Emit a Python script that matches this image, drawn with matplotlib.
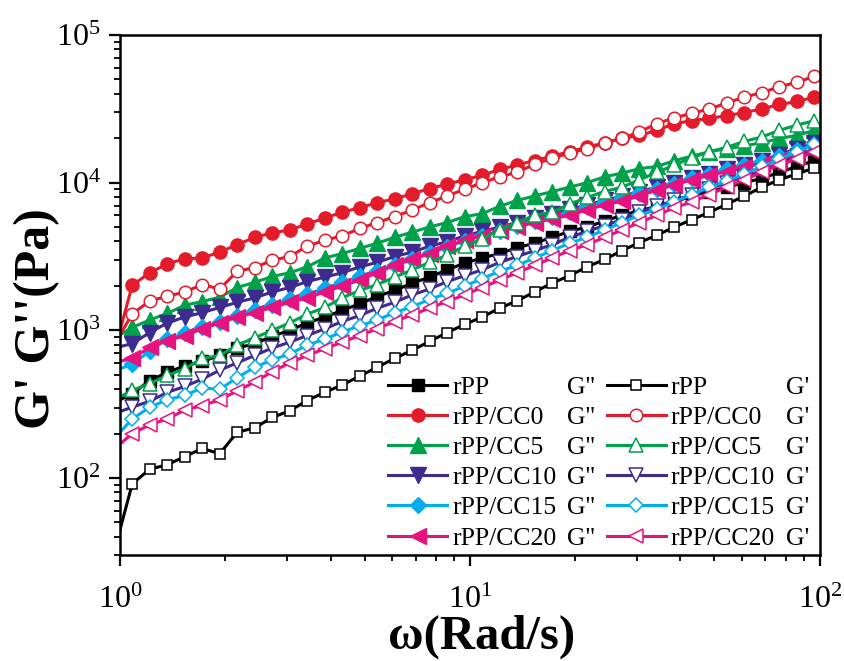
import numpy as np
import matplotlib
matplotlib.use("Agg")
import matplotlib.pyplot as plt

plt.rcParams['font.family'] = ['Liberation Serif', 'DejaVu Serif']
plt.rcParams['mathtext.fontset'] = 'custom'
plt.rcParams['mathtext.rm'] = 'Liberation Serif'
plt.rcParams['mathtext.it'] = 'Liberation Serif:italic'
plt.rcParams['mathtext.bf'] = 'Liberation Serif:bold'

# angular frequency (rad/s); first point carries no marker in the original
omega = [1.0, 1.084, 1.216, 1.365, 1.531, 1.718, 1.928, 2.163, 2.427, 2.723, 3.055,
         3.428, 3.846, 4.315, 4.842, 5.433, 6.095, 6.839, 7.674, 8.610, 9.661,
         10.84, 12.16, 13.65, 15.31, 17.18, 19.28, 21.63, 24.27, 27.23, 30.55,
         34.28, 38.46, 43.15, 48.42, 54.33, 60.95, 68.39, 76.74, 86.10, 96.61]

# log10 of modulus in Pa
rpp_gpp = [2.53, 2.57, 2.66, 2.715, 2.76, 2.79, 2.83, 2.88, 2.91, 2.96, 3.00,
           3.05, 3.09, 3.135, 3.18, 3.23, 3.27, 3.32, 3.36, 3.41, 3.455,
           3.49, 3.52, 3.56, 3.59, 3.63, 3.67, 3.70, 3.74, 3.78, 3.81,
           3.84, 3.87, 3.91, 3.94, 3.97, 4.00, 4.03, 4.07, 4.11, 4.15]
cc0_gpp = [3.00, 3.305, 3.39, 3.45, 3.485, 3.49, 3.53, 3.58, 3.63, 3.66, 3.68,
           3.72, 3.76, 3.80, 3.83, 3.865, 3.89, 3.925, 3.96, 3.99, 4.02,
           4.05, 4.09, 4.12, 4.15, 4.18, 4.21, 4.24, 4.27, 4.30, 4.32,
           4.355, 4.40, 4.42, 4.435, 4.455, 4.475, 4.50, 4.53, 4.55, 4.58]
cc5_gpp = [2.97, 3.02, 3.07, 3.115, 3.17, 3.195, 3.225, 3.29, 3.325, 3.365, 3.39,
           3.43, 3.49, 3.52, 3.555, 3.59, 3.63, 3.665, 3.70, 3.73, 3.77,
           3.79, 3.84, 3.88, 3.91, 3.94, 3.97, 4.00, 4.04, 4.065, 4.095,
           4.11, 4.15, 4.18, 4.21, 4.23, 4.25, 4.27, 4.30, 4.32, 4.355]
cc10_gpp = [2.89, 2.91, 2.985, 3.05, 3.09, 3.12, 3.155, 3.19, 3.22, 3.26, 3.29,
            3.33, 3.36, 3.39, 3.43, 3.46, 3.50, 3.53, 3.57, 3.60, 3.64,
            3.67, 3.70, 3.73, 3.76, 3.79, 3.82, 3.85, 3.88, 3.91, 3.94,
            3.97, 4.00, 4.03, 4.06, 4.09, 4.12, 4.15, 4.19, 4.23, 4.27]
cc15_gpp = [2.74, 2.77, 2.86, 2.94, 2.98, 3.02, 3.06, 3.10, 3.14, 3.175, 3.21,
            3.245, 3.285, 3.325, 3.365, 3.405, 3.445, 3.485, 3.525, 3.565, 3.605,
            3.64, 3.67, 3.71, 3.74, 3.77, 3.80, 3.84, 3.87, 3.90, 3.93,
            3.96, 3.99, 4.03, 4.06, 4.09, 4.12, 4.15, 4.18, 4.22, 4.25]
cc20_gpp = [2.79, 2.81, 2.885, 2.93, 2.965, 3.01, 3.05, 3.09, 3.12, 3.155, 3.19,
            3.22, 3.26, 3.30, 3.34, 3.39, 3.44, 3.48, 3.52, 3.57, 3.61,
            3.64, 3.67, 3.70, 3.73, 3.755, 3.78, 3.815, 3.85, 3.875, 3.91,
            3.95, 3.985, 4.02, 4.05, 4.075, 4.105, 4.13, 4.155, 4.18, 4.21]

rpp_gp = [1.65, 1.96, 2.06, 2.09, 2.145, 2.20, 2.165, 2.31, 2.34, 2.41, 2.455,
          2.525, 2.58, 2.63, 2.69, 2.75, 2.81, 2.865, 2.925, 2.985, 3.04,
          3.09, 3.15, 3.20, 3.26, 3.32, 3.37, 3.43, 3.48, 3.54, 3.595,
          3.645, 3.70, 3.75, 3.80, 3.855, 3.91, 3.97, 4.02, 4.06, 4.10]
cc0_gp = [2.97, 3.11, 3.20, 3.23, 3.26, 3.31, 3.28, 3.40, 3.425, 3.475, 3.50,
          3.57, 3.61, 3.64, 3.69, 3.73, 3.77, 3.815, 3.865, 3.91, 3.955,
          4.00, 4.04, 4.07, 4.125, 4.165, 4.20, 4.23, 4.27, 4.30, 4.345,
          4.40, 4.44, 4.47, 4.50, 4.54, 4.58, 4.61, 4.65, 4.68, 4.72]
cc5_gp = [2.55, 2.593, 2.64, 2.695, 2.74, 2.81, 2.83, 2.90, 2.95, 3.00, 3.05,
          3.11, 3.155, 3.22, 3.27, 3.31, 3.36, 3.41, 3.46, 3.51, 3.57,
          3.62, 3.68, 3.73, 3.78, 3.80, 3.855, 3.90, 3.94, 3.97, 4.02,
          4.07, 4.12, 4.17, 4.21, 4.24, 4.28, 4.31, 4.355, 4.39, 4.42]
cc10_gp = [2.45, 2.48, 2.52, 2.58, 2.62, 2.67, 2.73, 2.78, 2.83, 2.88, 2.92,
           2.965, 3.01, 3.06, 3.10, 3.15, 3.19, 3.24, 3.28, 3.33, 3.37,
           3.41, 3.46, 3.50, 3.54, 3.58, 3.63, 3.67, 3.71, 3.75, 3.80,
           3.84, 3.88, 3.92, 3.96, 4.00, 4.04, 4.08, 4.13, 4.18, 4.23]
cc15_gp = [2.31, 2.40, 2.48, 2.53, 2.56, 2.61, 2.60, 2.68, 2.75, 2.80, 2.84,
           2.90, 2.94, 2.99, 3.03, 3.07, 3.12, 3.16, 3.21, 3.25, 3.30,
           3.35, 3.40, 3.44, 3.49, 3.54, 3.59, 3.63, 3.68, 3.73, 3.78,
           3.82, 3.87, 3.92, 3.97, 4.01, 4.06, 4.11, 4.16, 4.21, 4.26]
cc20_gp = [2.23, 2.30, 2.36, 2.40, 2.46, 2.49, 2.53, 2.59, 2.65, 2.72, 2.78,
           2.83, 2.875, 2.92, 2.965, 3.01, 3.06, 3.105, 3.15, 3.195, 3.24,
           3.29, 3.34, 3.39, 3.44, 3.49, 3.54, 3.58, 3.63, 3.68, 3.73,
           3.78, 3.83, 3.87, 3.92, 3.97, 4.02, 4.07, 4.12, 4.16, 4.21]

names = ["rPP", "rPP/CC0", "rPP/CC5", "rPP/CC10", "rPP/CC15", "rPP/CC20"]
colors = ["#000000", "#E31B2A", "#00A14B", "#3D2B8F", "#00AEEF", "#E6137E"]
markers = ["s", "o", "^", "v", "D", "<"]
sizes = [8, 9.5, 11, 11, 8, 11]
gpp = [rpp_gpp, cc0_gpp, cc5_gpp, cc10_gpp, cc15_gpp, cc20_gpp]
gp = [rpp_gp, cc0_gp, cc5_gp, cc10_gp, cc15_gp, cc20_gp]

fig = plt.figure(figsize=(8.45, 6.61), dpi=100)
ax = fig.add_axes([0.142, 0.160, 0.828, 0.787])

for name, c, m, s, y in zip(names, colors, markers, sizes, gpp):
    ax.plot(omega, 10 ** np.array(y), color=c, lw=2.2, marker=m, ms=s,
            mfc=c, mec=c, markevery=slice(1, None), label=name)
for name, c, m, s, y in zip(names, colors, markers, sizes, gp):
    ax.plot(omega, 10 ** np.array(y), color=c, lw=2.2, marker=m, ms=s - 0.5,
            mfc="white", mec=c, mew=1.1, markevery=slice(1, None), label=name)

ax.set_xscale("log")
ax.set_yscale("log")
ax.set_xlim(1, 100)
ax.set_ylim(30, 1e5)

for sp in ax.spines.values():
    sp.set_linewidth(1.8)
ax.tick_params(which="major", direction="out", length=8, width=1.6,
               labelsize=23, top=False, right=False)
ax.tick_params(which="minor", direction="out", length=4.5, width=1.3,
               top=False, right=False)
ax.tick_params(axis="x", pad=14)
ax.tick_params(axis="y", pad=6)

ax.set_xlabel("ω(Rad/s)", fontsize=35, fontweight="bold")
ax.set_ylabel("G' G''(Pa)", fontsize=36, fontweight="bold")
ax.xaxis.set_label_coords(0.517, -0.115)
ax.yaxis.set_label_coords(-0.085, 0.455)

leg = ax.legend(ncol=2, loc="upper left", bbox_to_anchor=(0.383, 0.345),
                frameon=False, fontsize=18.5, handlelength=2.3,
                handletextpad=0.2, labelspacing=0.28, columnspacing=1.95,
                borderpad=0, borderaxespad=0)

# modulus tags to the right of each legend column
fig.canvas.draw()
rend = fig.canvas.get_renderer()
texts = leg.get_texts()
inv = fig.transFigure.inverted()
for col, tag in [(0, "G''"), (1, "G'")]:
    boxes = [t.get_window_extent(rend) for t in texts[col * 6:(col + 1) * 6]]
    xr = max(b.x1 for b in boxes) + 11
    for b in boxes:
        xf, yf = inv.transform((xr, (b.y0 + b.y1) / 2))
        fig.text(xf, yf, tag, fontsize=18.5, va="center", ha="left")

fig.savefig("out.png", dpi=100)
